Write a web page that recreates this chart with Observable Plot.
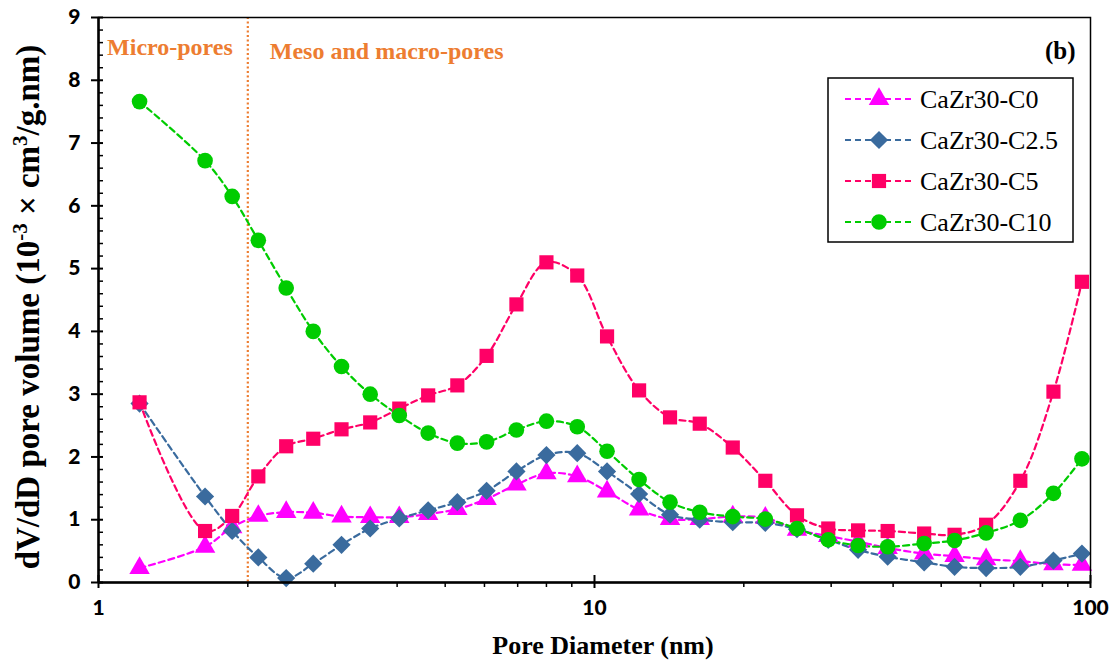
<!DOCTYPE html>
<html><head><meta charset="utf-8">
<script src="https://cdn.jsdelivr.net/npm/d3@7"></script>
<script src="https://cdn.jsdelivr.net/npm/@observablehq/plot@0.6"></script>
<style>body{margin:0;background:#fff} svg{display:block}</style>
</head><body><div id="chart"></div>
<script>
// Pore diameters (nm)
const diameter = [1.21, 1.64, 1.86, 2.10, 2.39, 2.71, 3.09, 3.53, 4.04, 4.62, 5.29, 6.06, 6.96, 8.00, 9.23,
  10.6, 12.3, 14.2, 16.3, 19.0, 22.1, 25.6, 29.6, 34.0, 39.0, 46.2, 53.2, 61.6, 72.2, 84.2, 96.1];
const seriesNames = ["CaZr30-C0", "CaZr30-C2.5", "CaZr30-C5", "CaZr30-C10"];
const c0  = [0.23, 0.57, 0.88, 1.06, 1.12, 1.11, 1.05, 1.04, 1.04, 1.09, 1.17, 1.33, 1.56, 1.74, 1.69,
  1.45, 1.16, 1.01, 1.01, 1.05, 1.03, 0.84, 0.74, 0.65, 0.55, 0.46, 0.42, 0.37, 0.34, 0.29, 0.28];
const c25 = [2.85, 1.37, 0.82, 0.40, 0.07, 0.30, 0.60, 0.86, 1.02, 1.15, 1.28, 1.46, 1.77, 2.03, 2.06,
  1.77, 1.41, 1.08, 1.00, 0.96, 0.95, 0.85, 0.68, 0.52, 0.41, 0.32, 0.25, 0.23, 0.25, 0.35, 0.46];
const c5  = [2.87, 0.82, 1.06, 1.69, 2.17, 2.29, 2.44, 2.55, 2.77, 2.98, 3.14, 3.61, 4.43, 5.10, 4.89,
  3.92, 3.06, 2.63, 2.53, 2.15, 1.62, 1.07, 0.86, 0.83, 0.82, 0.78, 0.76, 0.92, 1.62, 3.04, 4.79];
const c10 = [7.66, 6.72, 6.15, 5.45, 4.69, 4.00, 3.44, 3.00, 2.66, 2.38, 2.22, 2.24, 2.43, 2.57, 2.48,
  2.09, 1.64, 1.28, 1.12, 1.05, 1.01, 0.86, 0.68, 0.59, 0.57, 0.62, 0.67, 0.79, 0.99, 1.42, 1.97];
const yTicks = [0, 1, 2, 3, 4, 5, 6, 7, 8, 9];
const xTicks = [1, 10, 100];
const xMinor = [2, 3, 4, 5, 6, 7, 8, 9, 20, 30, 40, 50, 60, 70, 80, 90];
const yMinor = d3.range(0, 9.01, 0.2).filter(v => Math.abs(v - Math.round(v)) > 1e-6);
const boundary = [2];

const colors  = ["#FF00FF", "#3A6B9E", "#FF0066", "#00CC00"];
const symbols = ["triangle", "diamond2", "square", "circle"];
const radii   = [7.6, 8.2, 8.0, 7.8];
const values  = [c0, c25, c5, c10];

const series = seriesNames.map((name, i) => ({
  name, color: colors[i], symbol: symbols[i], r: radii[i],
  rows: diameter.map((d, j) => ({x: d, y: values[i][j]}))
}));

const serif = "'Liberation Serif', 'Times New Roman', serif";
const sans = "Lato, 'Open Sans', sans-serif";
const orange = "#ED7D31";

const marks = [
  Plot.ruleX(boundary, {stroke: orange, strokeWidth: 2.2, strokeDasharray: "2,2.5"}),
  ...series.map(s => Plot.line(s.rows, {x: "x", y: "y", stroke: s.color, strokeWidth: 2.2,
      strokeDasharray: "6,4", curve: "catmull-rom"})),
  ...series.map(s => Plot.dot(s.rows, {x: "x", y: "y", fill: s.color, symbol: s.symbol, r: s.r, stroke: "none"})),
  Plot.frame({stroke: "black", strokeWidth: 1.5}),
  Plot.ruleX([1], {stroke: "black", strokeWidth: 2.5}),
  Plot.ruleY([0], {stroke: "black", strokeWidth: 2.5}),
  Plot.axisY(yTicks, {tickSize: 7, tickPadding: 11, fontSize: 21, fontWeight: 900,
      fontFamily: sans, strokeWidth: 2, label: null, tickFormat: d => String(d)}),
  Plot.axisY(yTicks, {tickSize: -5, fill: "none", strokeWidth: 2, label: null}),
  Plot.axisY(yMinor, {tickSize: -5, fill: "none", strokeWidth: 1.5, label: null}),
  Plot.axisX(xTicks, {tickSize: 6, tickPadding: 12, fontSize: 21, fontWeight: 900,
      fontFamily: sans, strokeWidth: 2, label: null, tickFormat: d => String(d)}),
  Plot.axisX(xTicks, {tickSize: -7, fill: "none", strokeWidth: 2, label: null}),
  Plot.axisX(xMinor, {tickSize: 5, fill: "none", strokeWidth: 1.5, label: null}),
  Plot.text(["Micro-pores"], {x: boundary[0], frameAnchor: "top", textAnchor: "end", lineAnchor: "bottom",
      dx: -15, dy: 37, fill: orange, fontWeight: "bold", fontSize: 24, fontFamily: serif}),
  Plot.text(["Meso and macro-pores"], {x: boundary[0], frameAnchor: "top", textAnchor: "start", lineAnchor: "bottom",
      dx: 22, dy: 41, fill: orange, fontWeight: "bold", fontSize: 24, fontFamily: serif}),
  Plot.text(["(b)"], {frameAnchor: "top-right", textAnchor: "end", lineAnchor: "bottom",
      dx: -15, dy: 41, fill: "black", fontWeight: "bold", fontSize: 25, fontFamily: serif})
];

const chart = Plot.plot({
  width: 1118, height: 662,
  marginLeft: 98, marginRight: 28, marginTop: 17, marginBottom: 80,
  x: {type: "log", domain: [1, 100]},
  y: {domain: [0, 9]},
  style: {background: "white", overflow: "visible"},
  marks
});

const svg = d3.select(chart);

// Axis titles
const yt = svg.append("text")
  .attr("transform", "translate(39,307) rotate(-90)")
  .attr("text-anchor", "middle")
  .attr("font-family", serif).attr("font-weight", "bold").attr("font-size", 33).attr("fill", "black");
yt.append("tspan").text("dV/dD pore volume (10");
yt.append("tspan").attr("dy", -12).attr("font-size", 21).text("-3");
yt.append("tspan").attr("dy", 12).text(" \u00D7 cm");
yt.append("tspan").attr("dy", -12).attr("font-size", 21).text("3");
yt.append("tspan").attr("dy", 12).text("/g.nm)");

svg.append("text")
  .attr("x", 603).attr("y", 654)
  .attr("text-anchor", "middle")
  .attr("font-family", serif).attr("font-weight", "bold").attr("font-size", 26).attr("fill", "black")
  .text("Pore Diameter (nm)");

// Legend
const lg = svg.append("g");
lg.append("rect").attr("x", 828).attr("y", 78).attr("width", 245).attr("height", 164)
  .attr("fill", "white").attr("stroke", "black").attr("stroke-width", 1.5);
const symMap = {triangle: d3.symbolTriangle, diamond2: d3.symbolDiamond2, square: d3.symbolSquare, circle: d3.symbolCircle};
series.forEach((s, i) => {
  const cy = 99 + i * 41;
  lg.append("line").attr("x1", 845).attr("x2", 913).attr("y1", cy).attr("y2", cy)
    .attr("stroke", s.color).attr("stroke-width", 2.2).attr("stroke-dasharray", "6,4");
  lg.append("path").attr("transform", `translate(879,${cy})`)
    .attr("d", d3.symbol(symMap[s.symbol], Math.PI * s.r * s.r)()).attr("fill", s.color);
  lg.append("text").attr("x", 920).attr("y", cy + 9).attr("text-anchor", "start")
    .attr("font-family", serif).attr("font-size", 26).attr("fill", "black").text(s.name);
});

document.getElementById("chart").appendChild(chart);
</script>
</body></html>
